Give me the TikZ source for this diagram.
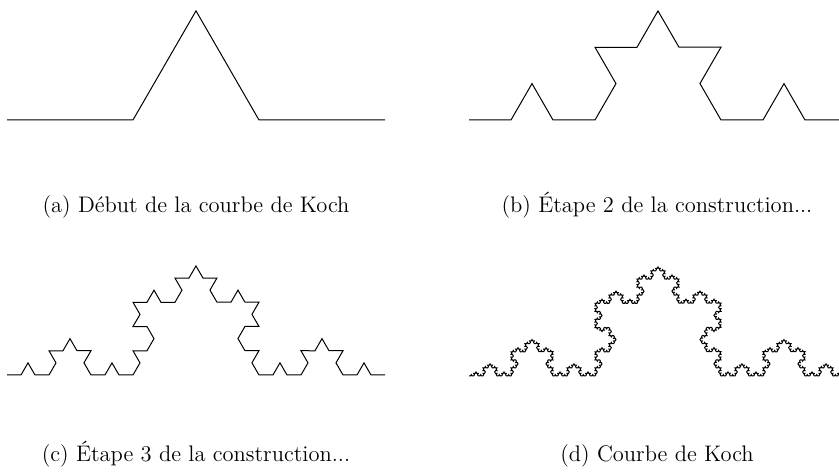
\documentclass[tikz,border=0pt]{standalone}
\usetikzlibrary{decorations.fractals}
\begin{document}
\begin{tikzpicture}[x=0.5pt,y=0.5pt,
	courbe/.style={line width=0.5pt, line join=miter, decoration=Koch snowflake},
	legende/.style={anchor=base, font=\fontsize{11.25pt}{13pt}\selectfont}]
	\useasboundingbox (0,0) rectangle (839,475);
	\clip (0,0) rectangle (839,475);
	
	% Courbes de Koch (ordre 1, 2, 3 et 5)
	\draw[courbe] decorate{(7,355) -- (385,355)};
	\draw[courbe] decorate{decorate{(469,355) -- (847,355)}};
	\draw[courbe] decorate{decorate{decorate{(7,100) -- (385,100)}}};
	\draw[courbe] decorate{decorate{decorate{decorate{decorate{(469,99) -- (847,99)}}}}};
	
	% Légendes
	\node[legende] (capA) at (196,262) {(a) Début de la courbe de Koch};
	\node[legende] (capB) at (657,262) {(b) Étape 2 de la construction...};
	\node[legende] (capC) at (196,13) {(c) Étape 3 de la construction...};
	\node[legende] (capD) at (657,13) {(d) Courbe de Koch};
\end{tikzpicture}
\end{document}
